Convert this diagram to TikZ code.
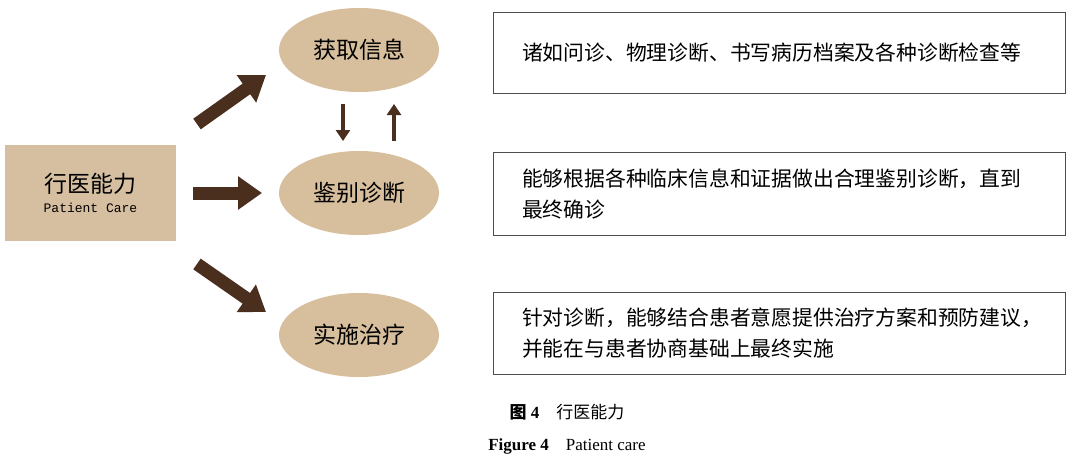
\documentclass[tikz,border=0pt]{standalone}
\usepackage{fontspec}
\setmainfont{Liberation Serif}
\newfontfamily\cjk{Noto Sans CJK SC}
\setmonofont{Liberation Mono}
\usetikzlibrary{arrows.meta,shapes.geometric}
\definecolor{tan}{HTML}{D6BFA0}
\definecolor{ell}{HTML}{D7BE9C}
\definecolor{brn}{HTML}{4A2E1E}
\begin{document}
\begin{tikzpicture}[x=1pt,y=-1pt,
  ov/.style={ellipse,fill=ell,minimum width=160pt,minimum height=84pt,font=\cjk\fontsize{23}{26}\selectfont},
  bigarr/.style={brn,line width=13pt,-{Triangle[length=24pt,width=32pt]}},
  smallarr/.style={brn,line width=4pt,-{Triangle[length=11pt,width=14pt]}},
  desc/.style={draw=black!70,line width=0.8pt,minimum width=572pt,text width=514pt,align=left,inner xsep=29pt,inner ysep=0pt,font=\cjk\fontsize{20.8}{31}\selectfont}]
\useasboundingbox (0,0) rectangle (1080,467);
\fill[white] (0,0) rectangle (1080,467);
\node[fill=tan,minimum width=171pt,minimum height=96pt,align=center] (pc) at (90.5,193)
  {{\cjk\fontsize{23}{26}\selectfont 行医能力}\\[8pt]{\ttfamily\fontsize{13}{14}\selectfont Patient Care}};
\node[ov] (e1) at (359,50) {获取信息};
\node[ov] (e2) at (359,193) {鉴别诊断};
\node[ov] (e3) at (359,335) {实施治疗};
\coordinate (a1s) at (197,124); \coordinate (a1e) at (266,75);
\coordinate (a2s) at (193,193); \coordinate (a2e) at (262,193);
\coordinate (a3s) at (197,264); \coordinate (a3e) at (266,312);
\draw[bigarr] (a1s) -- (a1e);
\draw[bigarr] (a2s) -- (a2e);
\draw[bigarr] (a3s) -- (a3e);
\coordinate (d1) at (343,104); \coordinate (d2) at (343,141);
\coordinate (u1) at (394,141); \coordinate (u2) at (394,104);
\draw[smallarr] (d1) -- (d2);
\draw[smallarr] (u1) -- (u2);
\node[desc,minimum height=81pt] (b1) at (779,52.5) {诸如问诊、物理诊断、书写病历档案及各种诊断检查等};
\node[desc,minimum height=83pt] (b2) at (779,193.5) {能够根据各种临床信息和证据做出合理鉴别诊断，直到\\最终确诊};
\node[desc,minimum height=82pt] (b3) at (779,333) {针对诊断，能够结合患者意愿提供治疗方案和预防建议，\\并能在与患者协商基础上最终实施};
\node[font=\fontsize{17}{20}\selectfont] (c1) at (567,412) {\textbf{\cjk 图} \textbf{4}\quad{\cjk 行医能力}};
\node[font=\fontsize{17}{20}\selectfont] (c2) at (567,446) {\textbf{Figure 4}\quad Patient care};
\end{tikzpicture}
\end{document}
